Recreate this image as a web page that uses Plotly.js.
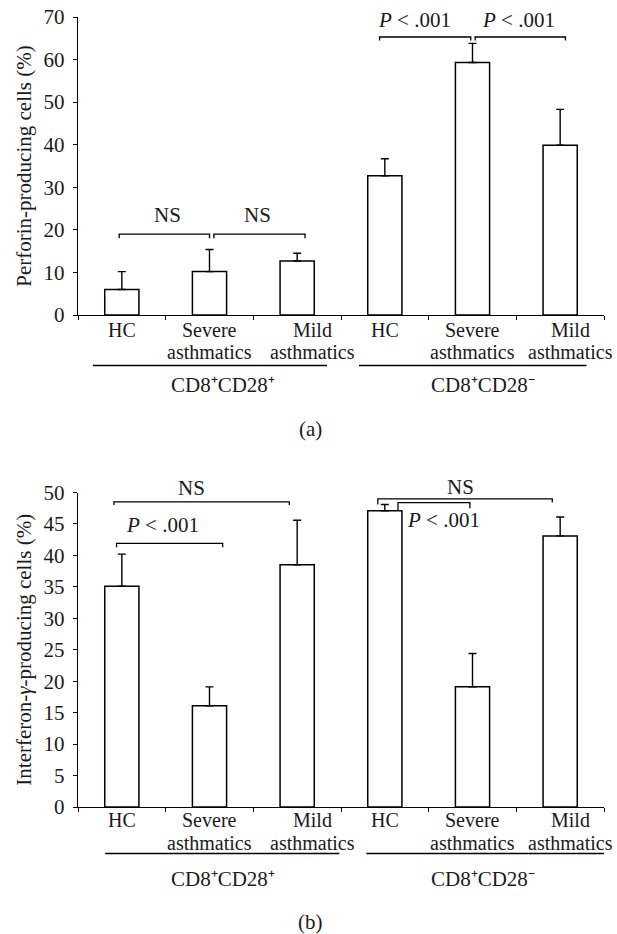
<!DOCTYPE html>
<html>
<head>
<meta charset="utf-8">
<script src="https://cdn.plot.ly/plotly-3.0.1.min.js"></script>
<style>html,body{margin:0;padding:0;background:#fff;}#chart{width:617px;height:934px;}</style>
</head>
<body>
<div id="chart"></div>
<script>
// ---- data ----
var categories = ['HC', 'Severe<br>asthmatics', 'Mild<br>asthmatics', 'HC', 'Severe<br>asthmatics', 'Mild<br>asthmatics'];
var groups = ['CD8\u207aCD28\u207a', 'CD8\u207aCD28\u207b'];
var perforinMean = [6.0, 10.2, 12.7, 32.7, 59.3, 39.9];
var perforinErr  = [4.2, 5.2, 1.8, 4.0, 4.5, 8.4];
var ifngMean = [35.1, 16.1, 38.5, 47.1, 19.1, 43.1];
var ifngErr  = [5.1, 3.0, 7.1, 1.0, 5.3, 3.0];
var yTicksA = [0, 10, 20, 30, 40, 50, 60, 70];
var yTicksB = [0, 5, 10, 15, 20, 25, 30, 35, 40, 45, 50];
var sigLabelsA = ['NS', 'NS', '<i>P</i> &lt; .001', '<i>P</i> &lt; .001'];
var sigLabelsB = ['NS', '<i>P</i> &lt; .001', 'NS', '<i>P</i> &lt; .001'];

// ---- geometry (styling / placement) ----
var FONT = 'Liberation Serif, Times New Roman, serif';
var FS = 21;
var FSC = 20;
var TXT = '#1a1a1a';
var H = 934;
var xs = categories.map(function (_, i) { return i; });
var boundaries = [-0.5, 0.5, 1.5, 2.5, 3.5, 4.5, 5.5];
var domX = [78 / 617, 604 / 617];
var domA = [1 - 315 / H, 1 - 17 / H];
var domB = [1 - 807 / H, 1 - 492.5 / H];
var rangeA = [0, 70], rangeB = [0, 50];

function toPaper(v, dom, range) {
  return dom[0] + (v - range[0]) / (range[1] - range[0]) * (dom[1] - dom[0]);
}

function barTrace(y, err, xa, ya) {
  return {
    type: 'bar', x: xs, y: y, xaxis: xa, yaxis: ya, width: 0.39,
    marker: {color: '#ffffff', line: {color: '#000', width: 1.5}},
    error_y: {type: 'data', array: err, arrayminus: err.map(function () { return 0; }),
              symmetric: false, color: '#000', thickness: 1.4, width: 4},
    hoverinfo: 'none', showlegend: false
  };
}

// brackets: [x0, x1, y, leftDrop, rightDrop, labelX, labelY]
var bracketsA = [
  [-0.03, 1.00, 19.0, 1.0, 1.0, 0.52, 23.5],
  [1.05, 2.09, 19.0, 1.0, 1.0, 1.55, 23.5],
  [2.94, 3.98, 65.3, 0.8, 0.8, 3.34, 69.3],
  [4.03, 5.06, 65.3, 0.8, 0.8, 4.52, 69.3]
];
var bracketsB = [
  [-0.09, 1.91, 48.5, 0.5, 0.5, 0.80, 50.7],
  [-0.06, 1.15, 41.9, 0.6, 0.6, 0.46, 44.8],
  [2.92, 4.91, 49.0, 0.9, 0.6, 3.86, 50.9],
  [3.15, 3.97, 48.4, 1.2, 0.9, 3.67, 45.6]
];

var shapes = [];
var annotations = [];
function addBrackets(br, labels, xr, yr, dom, range) {
  br.forEach(function (b, i) {
    var p = 'M' + b[0] + ',' + (b[2] - b[3]) + ' L' + b[0] + ',' + b[2] +
            ' L' + b[1] + ',' + b[2] + ' L' + b[1] + ',' + (b[2] - b[4]);
    shapes.push({type: 'path', xref: xr, yref: yr, path: p, line: {color: '#000', width: 1.3}});
    annotations.push({xref: xr, yref: 'paper', x: b[5], y: toPaper(b[6], dom, range), text: labels[i],
                      showarrow: false, font: {family: FONT, size: FS, color: TXT},
                      xanchor: 'center', yanchor: 'middle'});
  });
}
addBrackets(bracketsA, sigLabelsA, 'x', 'y', domA, rangeA);
addBrackets(bracketsB, sigLabelsB, 'x2', 'y2', domB, rangeB);

// category labels (each line placed separately) & group lines
function addCategoryLabels(xr, linePxs, lineSeg, segPx, groupX, groupPx) {
  categories.forEach(function (c, i) {
    var parts = c.split('<br>');
    var isMild = c.indexOf('Mild') === 0;
    parts.forEach(function (t, k) {
      annotations.push({xref: xr, yref: 'paper', x: xs[i], y: 1 - linePxs[k] / H, text: t, showarrow: false,
                        xanchor: 'center', yanchor: 'middle', xshift: isMild ? (i < 3 ? 15 : 10) : 0,
                        borderpad: 0,
                        font: {family: FONT, size: FSC, color: TXT}});
    });
  });
  lineSeg.forEach(function (s) {
    shapes.push({type: 'line', xref: xr, yref: 'paper', x0: s[0], x1: s[1], y0: 1 - segPx / H, y1: 1 - segPx / H,
                 line: {color: '#000', width: 1.5}});
  });
  groups.forEach(function (g, i) {
    annotations.push({xref: xr, yref: 'paper', x: groupX[i], y: 1 - groupPx / H, text: g, showarrow: false,
                      xanchor: 'center', yanchor: 'middle', font: {family: FONT, size: FS, color: TXT}});
  });
}
addCategoryLabels('x', [329.5, 352], [[-0.33, 2.34], [2.705, 5.30]], 365.5, [1.15, 4.12], 385);
addCategoryLabels('x2', [820, 842.5], [[-0.19, 2.48], [2.79, 5.5]], 853.5, [1.15, 4.12], 879);

annotations.push({xref: 'paper', yref: 'paper', x: 310 / 617, y: 1 - 429 / H, text: '(a)', showarrow: false,
                  xanchor: 'center', yanchor: 'middle', font: {family: FONT, size: FS, color: TXT}});
annotations.push({xref: 'paper', yref: 'paper', x: 310 / 617, y: 1 - 921.5 / H, text: '(b)', showarrow: false,
                  xanchor: 'center', yanchor: 'middle', font: {family: FONT, size: FS, color: TXT}});

function xAxis(anchor) {
  return {domain: domX, anchor: anchor, range: [-0.5, 5.5], showgrid: false, zeroline: false,
          showline: true, linecolor: '#000', linewidth: 1.3, ticks: '', tickmode: 'array', tickvals: [],
          showticklabels: false,
          minor: {tickmode: 'array', tickvals: boundaries, ticks: 'outside', ticklen: 4,
                  tickcolor: '#000', tickwidth: 1, showgrid: false},
          fixedrange: true};
}
function yAxis(anchor, dom, range, tv, title) {
  return {domain: dom, anchor: anchor, range: range, showgrid: false, zeroline: false,
          showline: true, linecolor: '#000', linewidth: 1.3, ticks: 'outside', ticklen: 4,
          tickcolor: '#000', tickwidth: 1, tickmode: 'array', tickvals: tv, ticktext: tv.map(String),
          ticklabelstandoff: 4,
          tickfont: {family: FONT, size: FS, color: TXT},
          title: {text: title, font: {family: FONT, size: FS, color: TXT}, standoff: 6},
          fixedrange: true};
}

var data = [
  barTrace(perforinMean, perforinErr, 'x', 'y'),
  barTrace(ifngMean, ifngErr, 'x2', 'y2')
];

var layout = {
  width: 617, height: 934,
  margin: {l: 0, r: 0, t: 0, b: 0},
  paper_bgcolor: '#fff', plot_bgcolor: '#fff',
  font: {family: FONT, color: TXT},
  showlegend: false,
  xaxis: xAxis('y'),
  yaxis: yAxis('x', domA, rangeA, yTicksA, 'Perforin-producing cells (%)'),
  xaxis2: xAxis('y2'),
  yaxis2: yAxis('x2', domB, rangeB, yTicksB, 'Interferon-<i>\u03b3</i>-producing cells (%)'),
  shapes: shapes,
  annotations: annotations
};

Plotly.newPlot('chart', data, layout, {staticPlot: true, displayModeBar: false});
</script>
</body>
</html>
